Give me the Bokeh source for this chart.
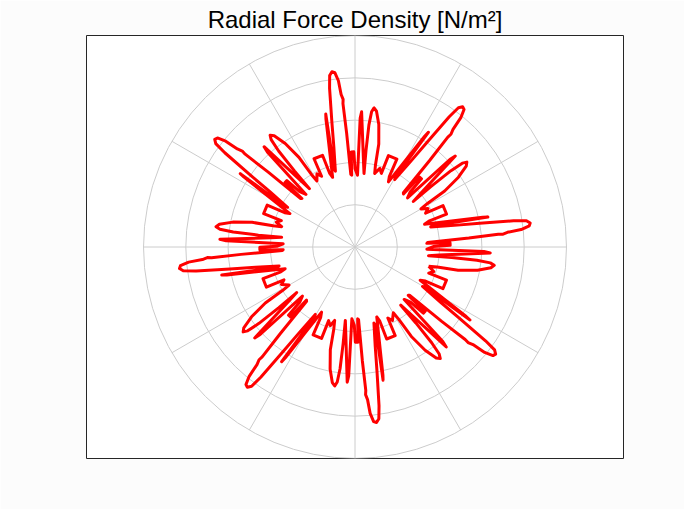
import numpy as np
from bokeh.plotting import figure
from bokeh.models import Range1d
from bokeh.embed import file_html
from bokeh.resources import INLINE

# angles (deg) of the eight long lobes
lobe_angles = [7.8, 52.5, 97.5, 142.5, 187.0, 232.5, 277.0, 322.7]

# one lobe period in path order: angle offset from the lobe tip (deg), radius (grid rings = 1..5)
period_offset = [-22.5, -21.5, -20.5, -18.5, -16.5, -15.3, -14.5, -14.0,
                 -14.0, -14.5, -13.3, -10.3, -9.8, -9.5, -7.5, -6.8,
                 -5.2, -4.9, -4.2, -3.3, -2.7, -2.9, -2.3, -1.8,
                 -0.9, 0.0, 0.9, 1.6, 3.0, 4.5, 7.0, 7.5,
                 4.9, 5.3, 10.3, 11.5, 12.0, 17.4, 17.8, 20.0, 22.5]
period_radius = [1.80, 2.00, 2.50, 2.95, 3.25, 3.32, 3.22, 2.90,
                 2.30, 1.75, 2.00, 3.20, 3.05, 1.70, 1.85, 2.25,
                 2.25, 1.70, 1.72, 2.70, 3.40, 3.50, 3.62, 3.95,
                 4.15, 4.18, 4.10, 3.80, 3.00, 2.40, 1.85, 1.90,
                 3.22, 3.10, 1.73, 1.85, 2.30, 2.30, 1.85, 1.95, 1.80]

ring_radii = [1, 2, 3, 4, 5]
spoke_angles = [0, 30, 60, 90, 120, 150]

theta = []
radius = []
for a in lobe_angles:
    for o, rr in zip(period_offset[:-1], period_radius[:-1]):
        theta.append(a + o)
        radius.append(rr)
theta.append(theta[0])
radius.append(radius[0])
theta = np.radians(theta)
radius = np.array(radius)
xs = radius * np.cos(theta)
ys = radius * np.sin(theta)

p = figure(width=684, height=509, x_range=Range1d(-6.348, 6.348), y_range=Range1d(-5, 5),
           output_backend="svg", toolbar_location=None,
           x_axis_location=None, y_axis_location=None,
           min_border_left=86, min_border_right=61, min_border_top=35, min_border_bottom=51)
p.grid.grid_line_color = None
p.outline_line_color = "#262626"
p.outline_line_width = 1
p.border_fill_color = "#fcfcfc"
p.background_fill_color = "white"

p.title.text = "Radial Force Density [N/m\u00b2]"
p.title.align = "center"
p.title.text_font = "Liberation Sans"
p.title.text_font_size = "24px"
p.title.text_font_style = "normal"
p.title.text_color = "black"
p.title.standoff = 6

# polar grid
p.circle(x=[0] * len(ring_radii), y=[0] * len(ring_radii), radius=ring_radii,
         fill_color=None, line_color="#cccccc", line_width=1)
sa = np.radians(spoke_angles)
p.segment(x0=-5 * np.cos(sa), y0=-5 * np.sin(sa), x1=5 * np.cos(sa), y1=5 * np.sin(sa),
          line_color="#cccccc", line_width=1)

p.line(xs, ys, line_color="red", line_width=3, line_join="round")

open("out.html", "w").write(file_html(p, INLINE))
